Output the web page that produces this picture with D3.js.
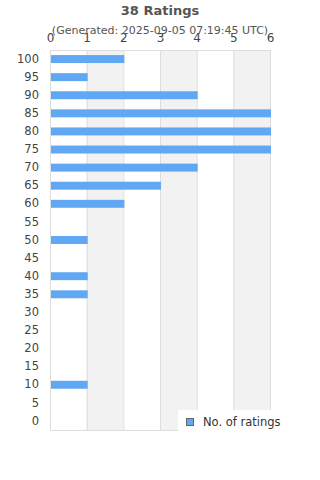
<!DOCTYPE html>
<html>
<head>
<meta charset="utf-8">
<script src="https://cdn.jsdelivr.net/npm/d3@7"></script>
<style>
  body { margin: 0; background: #fff; }
  text { font-family: "DejaVu Sans", sans-serif; fill: #444; }
</style>
</head>
<body>
<div id="chart"></div>
<script>
// ratings data
const categories = ['100','95','90','85','80','75','70','65','60','55','50','45','40','35','30','25','20','15','10','5','0'];
const counts = [2,1,4,6,6,6,4,3,2,0,1,0,1,1,0,0,0,0,1,0,0];
const xTicks = [0,1,2,3,4,5,6];
const title = '38 Ratings';
const subtitle = '(Generated: 2025-09-05 07:19:45 UTC)';
const seriesName = 'No. of ratings';

const width = 320, height = 480;
const margin = { top: 50, left: 50, right: 50, bottom: 50 };
const plotW = 270 - margin.left;
const plotH = 430 - margin.top;

const svg = d3.select('#chart').append('svg')
    .attr('width', width)
    .attr('height', height);

const chart = svg.append('g')
    .attr('transform', `translate(${margin.left},${margin.top})`);

const xScale = d3.scaleLinear().domain([0, 6]).range([0, plotW]);
const yScale = d3.scaleBand().domain(categories).range([0, plotH]).paddingInner(0.56).paddingOuter(0.28);

// alternating shaded columns
chart.selectAll('.band')
    .data(xTicks.slice(0, -1).filter(d => d % 2 === 1))
    .enter()
    .append('rect')
    .attr('x', d => xScale(d))
    .attr('y', 0)
    .attr('width', d => xScale(d + 1) - xScale(d))
    .attr('height', plotH)
    .style('fill', '#f2f2f2');

// gridlines
chart.selectAll('.grid')
    .data(xTicks)
    .enter()
    .append('line')
    .attr('x1', d => xScale(d) + 0.5)
    .attr('x2', d => xScale(d) + 0.5)
    .attr('y1', 0)
    .attr('y2', plotH)
    .attr('stroke', '#dddddd')
    .attr('stroke-width', 1);

chart.append('line')
    .attr('x1', 0).attr('x2', plotW + 0.5)
    .attr('y1', 0.5).attr('y2', 0.5)
    .attr('stroke', '#dddddd');
chart.append('line')
    .attr('x1', 0).attr('x2', plotW + 0.5)
    .attr('y1', plotH + 0.5).attr('y2', plotH + 0.5)
    .attr('stroke', '#dddddd');

// bars
chart.selectAll('.bar')
    .data(categories.map((c, i) => ({ cat: c, value: counts[i] })))
    .enter()
    .append('rect')
    .attr('x', xScale(0) + 1)
    .attr('y', d => yScale(d.cat))
    .attr('width', d => Math.max(0, xScale(d.value) - xScale(0)))
    .attr('height', yScale.bandwidth())
    .style('fill', '#60a8f3');

// x axis on top
const xAxis = d3.axisTop(xScale).tickValues(xTicks).tickFormat(d3.format('d')).tickSize(0).tickPadding(8);
chart.append('g')
    .call(xAxis)
    .call(g => g.select('.domain').remove())
    .selectAll('text')
    .style('font-size', '12px')
    .style('fill', '#444');

// y axis
const yAxis = d3.axisLeft(yScale).tickSize(0).tickPadding(11);
chart.append('g')
    .call(yAxis)
    .call(g => g.select('.domain').remove())
    .selectAll('text')
    .style('font-size', '11.5px')
    .style('fill', '#444');

// titles
svg.append('text')
    .attr('x', 160)
    .attr('y', 15)
    .attr('text-anchor', 'middle')
    .style('font-size', '13px')
    .style('font-weight', 'bold')
    .style('fill', '#555')
    .text(title);

svg.append('text')
    .attr('x', 160)
    .attr('y', 34)
    .attr('text-anchor', 'middle')
    .style('font-size', '11px')
    .style('fill', '#555')
    .text(subtitle);

// legend
const legend = svg.append('g').attr('transform', 'translate(178,410)');
legend.append('rect')
    .attr('width', 142).attr('height', 21)
    .style('fill', '#fff');
legend.append('rect')
    .attr('x', 8.5).attr('y', 8.5)
    .attr('width', 7).attr('height', 7)
    .style('fill', '#60a8f3')
    .attr('stroke', '#666');
legend.append('text')
    .attr('x', 25).attr('y', 16)
    .style('font-size', '11.5px')
    .style('fill', '#333')
    .text(seriesName);
</script>
</body>
</html>
